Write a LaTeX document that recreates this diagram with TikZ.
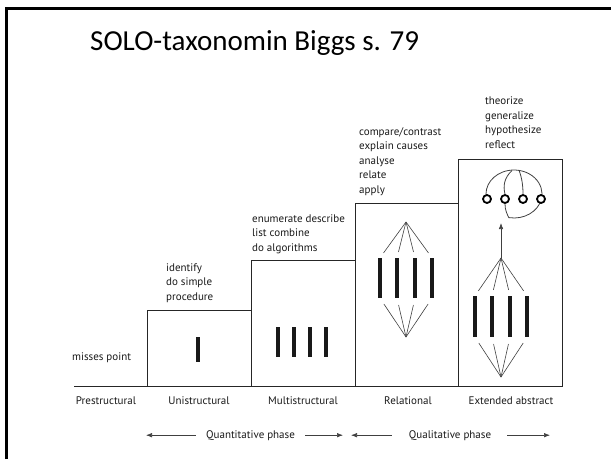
\documentclass[tikz,border=0pt]{standalone}
\usepackage{fontspec}
\setmainfont{PT Sans}
\newfontfamily\titlefont{Carlito}
\usetikzlibrary{arrows.meta, positioning}

\begin{document}
\begin{tikzpicture}[x=1pt, y=-1pt,
    box/.style={draw=black!85, line width=0.9pt},
    fan/.style={draw=black!75, line width=0.6pt},
    bar/.style={fill=black!90, inner sep=0pt, minimum width=4pt},
    lbl/.style={font=\fontsize{11}{14.5}\selectfont, text=black!90, inner sep=0pt},
    verbs/.style={lbl, align=left, anchor=base west},
    knob/.style={circle, draw=black, line width=1.8pt, minimum size=8pt, inner sep=0pt, fill=white},
    tip/.style={-{Latex[length=6pt,width=4.5pt]}}]

  \useasboundingbox (0,0) rectangle (611,459);
  % slide frame
  \draw[line width=3pt] (6,459) -- (6,8.5) -- (611,8.5);
  \node[font=\titlefont\fontsize{29}{31}\selectfont, anchor=base west, inner sep=0pt] (title) at (90,50) {SOLO-taxonomin Biggs s. 79};

  % staircase of boxes
  \draw[box] (74,386) -- (562,386);
  \draw[box] (147,310) rectangle (251,386);
  \draw[box] (251,260) rectangle (355,386);
  \draw[box] (355,203) rectangle (458,386);
  \draw[box] (458,159) rectangle (562,386);

  % unistructural
  \node[bar, minimum height=25pt] (u_1) at (198,349.5) {};

  % multistructural
  \foreach \i/\x in {1/278, 2/294, 3/310, 4/326}
    \node[bar, minimum height=30pt] (m_\i) at (\x,342) {};

  % relational
  \coordinate (r_top) at (406,222);
  \coordinate (r_bot) at (406,337);
  \foreach \i/\x in {1/380, 2/397, 3/415, 4/432} {
    \node[bar, minimum height=40pt] (r_\i) at (\x,278) {};
    \draw[fan, shorten >=6pt] (r_top) -- (r_\i.north);
    \draw[fan, shorten >=7pt] (r_bot) -- (r_\i.south);
  }

  % extended abstract
  \coordinate (e_top) at (501,258);
  \coordinate (e_bot) at (501,377);
  \coordinate (e_tip) at (501,223);
  \foreach \i/\x in {1/475, 2/492, 3/510, 4/527} {
    \node[bar, minimum height=41pt] (e_\i) at (\x,316.5) {};
    \draw[fan, shorten >=6pt] (e_top) -- (e_\i.north);
    \draw[fan, shorten >=7pt] (e_bot) -- (e_\i.south);
  }
  \draw[fan, tip] (e_top) -- (e_tip);

  \draw[fan, line width=0.8pt] (514,194) ++(192:28pt and 24pt)
    arc[start angle=192, end angle=-12, x radius=28pt, y radius=24pt];
  \draw[fan, line width=0.8pt] (514,194) ++(-12:28pt and 24pt)
    arc[start angle=-12, end angle=-100, x radius=28pt, y radius=24pt];
  \coordinate (o_1) at (512,170.5);
  \coordinate (o_2) at (519,170.3);
  \coordinate (o_3) at (509,218);
  \foreach \i/\x in {1/487, 2/505, 3/523, 4/541}
    \node[knob] (k_\i) at (\x,199) {};
  \draw[fan, line width=0.8pt] (o_1) .. controls (504,178) and (503,186) .. (k_2.north);
  \draw[fan, line width=0.8pt] (k_2.south) .. controls (505,210) and (507,214) .. (o_3);
  \draw[fan, line width=0.8pt] (o_2) .. controls (522,178) and (523,186) .. (k_3.north);

  % verbs (base = last line)
  \node[verbs] (p_txt) at (72,360) {misses point};
  \node[verbs] (u_txt) at (166,300) {identify\\do simple\\procedure};
  \node[verbs] (m_txt) at (252,251) {enumerate describe\\list combine\\do algorithms};
  \node[verbs] (r_txt) at (359,193) {compare/contrast\\explain causes\\analyse\\relate\\apply};
  \node[verbs] (e_txt) at (485,148) {theorize\\generalize\\hypothesize\\reflect};

  % levels
  \node[lbl, anchor=base] (p_lbl) at (106,404) {Prestructural};
  \node[lbl, anchor=base] (u_lbl) at (199,404) {Unistructural};
  \node[lbl, anchor=base] (m_lbl) at (303,404) {Multistructural};
  \node[lbl, anchor=base] (r_lbl) at (408,404) {Relational};
  \node[lbl, anchor=base] (e_lbl) at (511,404) {Extended abstract};

  % phases
  \node[lbl, anchor=base] (quan) at (250.5,438) {Quantitative phase};
  \node[lbl, anchor=base] (qual) at (450,438) {Qualitative phase};
  \coordinate (q_1) at (146,435);
  \coordinate (q_2) at (343,435);
  \coordinate (q_3) at (351,435);
  \coordinate (q_4) at (550,435);
  \draw[fan, tip, shorten <=10pt] (quan.west) -- (quan.west -| q_1);
  \draw[fan, tip, shorten <=10pt] (quan.east) -- (quan.east -| q_2);
  \draw[fan, tip, shorten <=17pt] (qual.west) -- (qual.west -| q_3);
  \draw[fan, tip, shorten <=16pt] (qual.east) -- (qual.east -| q_4);
\end{tikzpicture}
\end{document}
